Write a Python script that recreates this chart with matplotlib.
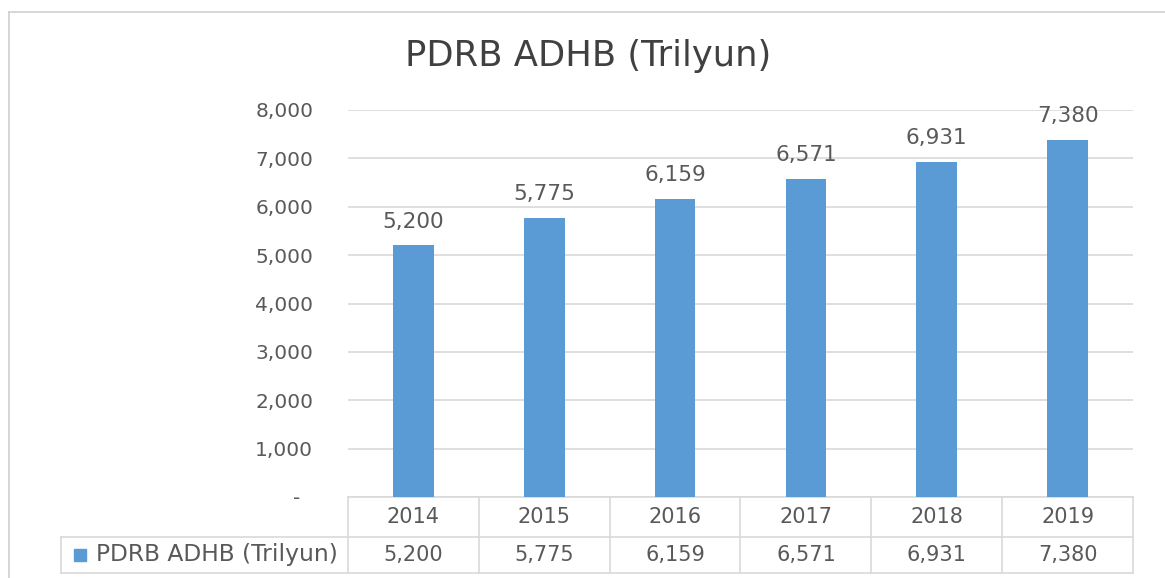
import matplotlib
matplotlib.use("Agg")
import matplotlib.pyplot as plt
from matplotlib.lines import Line2D
import matplotlib.transforms as mtransforms

years = ["2014", "2015", "2016", "2017", "2018", "2019"]
values = [5200, 5775, 6159, 6571, 6931, 7380]
value_labels = ["5,200", "5,775", "6,159", "6,571", "6,931", "7,380"]
yticks = [0, 1000, 2000, 3000, 4000, 5000, 6000, 7000, 8000]
ytick_labels = ["-  ", "1,000", "2,000", "3,000", "4,000", "5,000", "6,000", "7,000", "8,000"]
series_name = "PDRB ADHB (Trilyun)"
title = "PDRB ADHB (Trilyun)"

W, H = 1165, 578
BAR = "#5B9BD5"
TXT = "#595959"
GRID = "#D9D9D9"
FONT = "DejaVu Sans"

fig = plt.figure(figsize=(W / 100, H / 100), dpi=100)
fig.patch.set_facecolor("white")

# outer chart border (top & left visible)
fig.add_artist(Line2D([9 / W, 9 / W], [0, 1 - 12 / H], transform=fig.transFigure, color="#D0D0D0", lw=1.2))
fig.add_artist(Line2D([9 / W, 1], [1 - 12 / H, 1 - 12 / H], transform=fig.transFigure, color="#D0D0D0", lw=1.2))

x0, x1, ytop, ybot = 348, 1133, 110, 497
ax = fig.add_axes([x0 / W, (H - ybot) / H, (x1 - x0) / W, (ybot - ytop) / H])
ax.set_xlim(-0.5, len(years) - 0.5)
ax.set_ylim(0, 8000)
for s in ax.spines.values():
    s.set_visible(False)
ax.set_yticks(yticks)
ax.set_yticklabels(ytick_labels, fontsize=14.5, color=TXT, family=FONT)
ax.tick_params(axis="y", length=0, pad=25)
ax.set_xticks([])
ax.yaxis.grid(True, color=GRID, lw=1.2)
ax.set_axisbelow(True)

xs = list(range(len(years)))
bars = ax.bar(xs, values, width=0.31, color=BAR, zorder=3)
for x, v, lab in zip(xs, values, value_labels):
    ax.annotate(lab, (x, v), xytext=(0, 10), textcoords="offset points",
                ha="center", va="bottom", fontsize=15.5, color=TXT, family=FONT)

# data table
ph = ybot - ytop
r1 = -40 / ph
r2 = -76 / ph
leg_left = (61 - x0) / (x1 - x0)
blend = mtransforms.blended_transform_factory(ax.transData, ax.transAxes)
lk = dict(color=GRID, lw=1.2, clip_on=False)
ax.plot([0, 1], [0, 0], transform=ax.transAxes, **lk)
ax.plot([leg_left, 1], [r1, r1], transform=ax.transAxes, **lk)
ax.plot([leg_left, 1], [r2, r2], transform=ax.transAxes, **lk)
for i in range(len(years) + 1):
    ax.plot([i - 0.5, i - 0.5], [0, r2], transform=blend, **lk)
ax.plot([leg_left, leg_left], [r1, r2], transform=ax.transAxes, **lk)

for x, yr, lab in zip(xs, years, value_labels):
    ax.text(x, r1 / 2, yr, transform=blend, ha="center", va="center", fontsize=15, color=TXT, family=FONT)
    ax.text(x, (r1 + r2) / 2, lab, transform=blend, ha="center", va="center", fontsize=15, color=TXT, family=FONT)

ax.plot([(80 - x0) / (x1 - x0)], [(r1 + r2) / 2], marker="s", ms=8, color=BAR,
        transform=ax.transAxes, clip_on=False)
ax.text((96 - x0) / (x1 - x0), (r1 + r2) / 2, series_name, transform=ax.transAxes,
        ha="left", va="center", fontsize=16.8, color=TXT, family=FONT)

fig.text(588 / W, 1 - 56 / H, title, ha="center", va="center", fontsize=25.5, color="#404040", family=FONT)

fig.savefig("out.png", dpi=100)
